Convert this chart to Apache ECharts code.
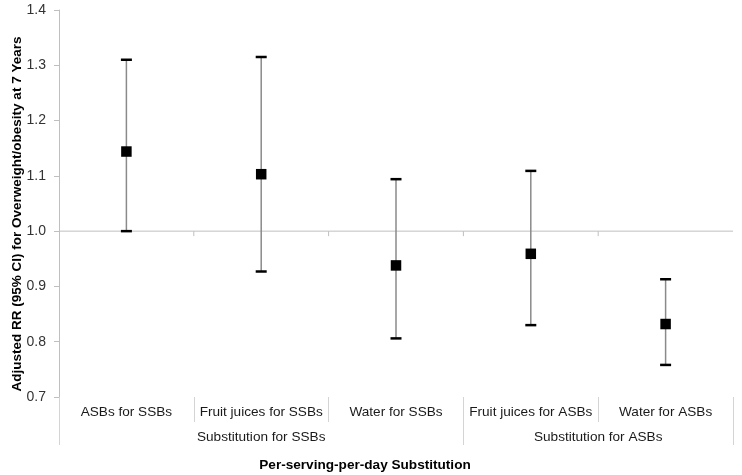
<!DOCTYPE html>
<html>
<head>
<meta charset="utf-8">
<script src="https://cdn.jsdelivr.net/npm/echarts@6/dist/echarts.min.js"></script>
<style>html,body{margin:0;padding:0;background:#fff}#c{width:742px;height:475px}</style>
</head>
<body>
<div id="c"></div>
<script>
const categories = ['ASBs for SSBs', 'Fruit juices for SSBs', 'Water for SSBs', 'Fruit juices for ASBs', 'Water for ASBs'];
const groups = ['Substitution for SSBs', 'Substitution for ASBs'];
const groupBounds = [0, 3, 5];
const rr    = [1.144, 1.103, 0.938, 0.959, 0.832];
const lower = [1.000, 0.927, 0.806, 0.830, 0.758];
const upper = [1.310, 1.315, 1.094, 1.109, 0.913];
const refValue = 1.0;
const yMin = 0.7, yMax = 1.4, yStep = 0.1;
const yTitle = 'Adjusted RR (95% CI) for Overweight/obesity at 7 Years';
const xTitle = 'Per-serving-per-day Substitution';

const FONT = 'Liberation Sans, Arial, sans-serif';
const groupMids = groups.map((g, i) => (groupBounds[i] + groupBounds[i + 1]) / 2);

const chart = echarts.init(document.getElementById('c'));
chart.setOption({
  animation: false,
  backgroundColor: '#fff',
  grid: { left: 59, right: 9, top: 10, bottom: 78 },
  xAxis: [
    {
      type: 'category', data: categories, position: 'bottom', boundaryGap: true,
      axisLine: { show: false },
      axisTick: { show: true, alignWithLabel: false, length: 25, lineStyle: { color: '#d4d4d4' } },
      axisLabel: { interval: 0, margin: 8, fontSize: 13.6, color: '#1a1a1a', fontFamily: FONT },
      splitLine: { show: false }
    },
    {
      type: 'value', min: groupBounds[0], max: groupBounds[groupBounds.length - 1], position: 'bottom',
      axisLine: { show: false },
      axisTick: { show: true, customValues: groupBounds, length: 48, lineStyle: { color: '#d4d4d4' } },
      axisLabel: {
        customValues: groupMids, margin: 33, fontSize: 13.6, color: '#1a1a1a', fontFamily: FONT,
        formatter: v => { const i = groupMids.indexOf(v); return i >= 0 ? groups[i] : ''; }
      },
      splitLine: { show: false }
    }
  ],
  yAxis: {
    type: 'value', min: yMin, max: yMax, interval: yStep,
    axisLine: { show: true, lineStyle: { color: '#bfbfbf' } },
    axisTick: { show: true, length: 5, lineStyle: { color: '#bfbfbf' } },
    splitLine: { show: false },
    axisLabel: { formatter: v => v.toFixed(1), fontSize: 14, color: '#333', margin: 13, fontFamily: FONT }
  },
  graphic: [
    { type: 'text', x: 17, y: 214, rotation: Math.PI / 2,
      style: { text: yTitle, font: 'bold 13.5px ' + FONT, fill: '#000', align: 'center', verticalAlign: 'middle' } },
    { type: 'text', x: 365, y: 465,
      style: { text: xTitle, font: 'bold 13.6px ' + FONT, fill: '#000', align: 'center', verticalAlign: 'middle' } }
  ],
  series: [
    {
      type: 'custom', name: 'baseline', xAxisIndex: 0, yAxisIndex: 0, silent: true, z: 1,
      data: categories.map((c, i) => [i, refValue]),
      encode: { x: 0, y: 1 },
      renderItem: (params, api) => {
        const i = api.value(0);
        const p = api.coord([i, api.value(1)]);
        const w = api.size([1, 0])[0];
        const children = [{
          type: 'line', shape: { x1: p[0] - w / 2, y1: p[1], x2: p[0] + w / 2, y2: p[1] },
          style: { stroke: '#bfbfbf', lineWidth: 1 }
        }];
        if (i < categories.length - 1) {
          children.push({ type: 'line', shape: { x1: p[0] + w / 2, y1: p[1], x2: p[0] + w / 2, y2: p[1] + 5 },
            style: { stroke: '#bfbfbf', lineWidth: 1 } });
        }
        return { type: 'group', children };
      }
    },
    {
      type: 'custom', name: 'CI', xAxisIndex: 0, yAxisIndex: 0, silent: true, z: 2,
      data: categories.map((c, i) => [i, lower[i], upper[i]]),
      encode: { x: 0, y: [1, 2] },
      renderItem: (params, api) => {
        const lo = api.coord([api.value(0), api.value(1)]);
        const hi = api.coord([api.value(0), api.value(2)]);
        const cw = 5.5;
        return { type: 'group', children: [
          { type: 'line', shape: { x1: lo[0], y1: lo[1], x2: hi[0], y2: hi[1] }, style: { stroke: '#8a8a8a', lineWidth: 1.5 } },
          { type: 'line', shape: { x1: hi[0] - cw, y1: hi[1], x2: hi[0] + cw, y2: hi[1] }, style: { stroke: '#000', lineWidth: 2.5 } },
          { type: 'line', shape: { x1: lo[0] - cw, y1: lo[1], x2: lo[0] + cw, y2: lo[1] }, style: { stroke: '#000', lineWidth: 2.5 } }
        ] };
      }
    },
    {
      type: 'scatter', name: 'RR', xAxisIndex: 0, yAxisIndex: 0, z: 3,
      data: rr, symbol: 'rect', symbolSize: 10.5, itemStyle: { color: '#000', opacity: 1 }
    }
  ]
});
</script>
</body>
</html>
